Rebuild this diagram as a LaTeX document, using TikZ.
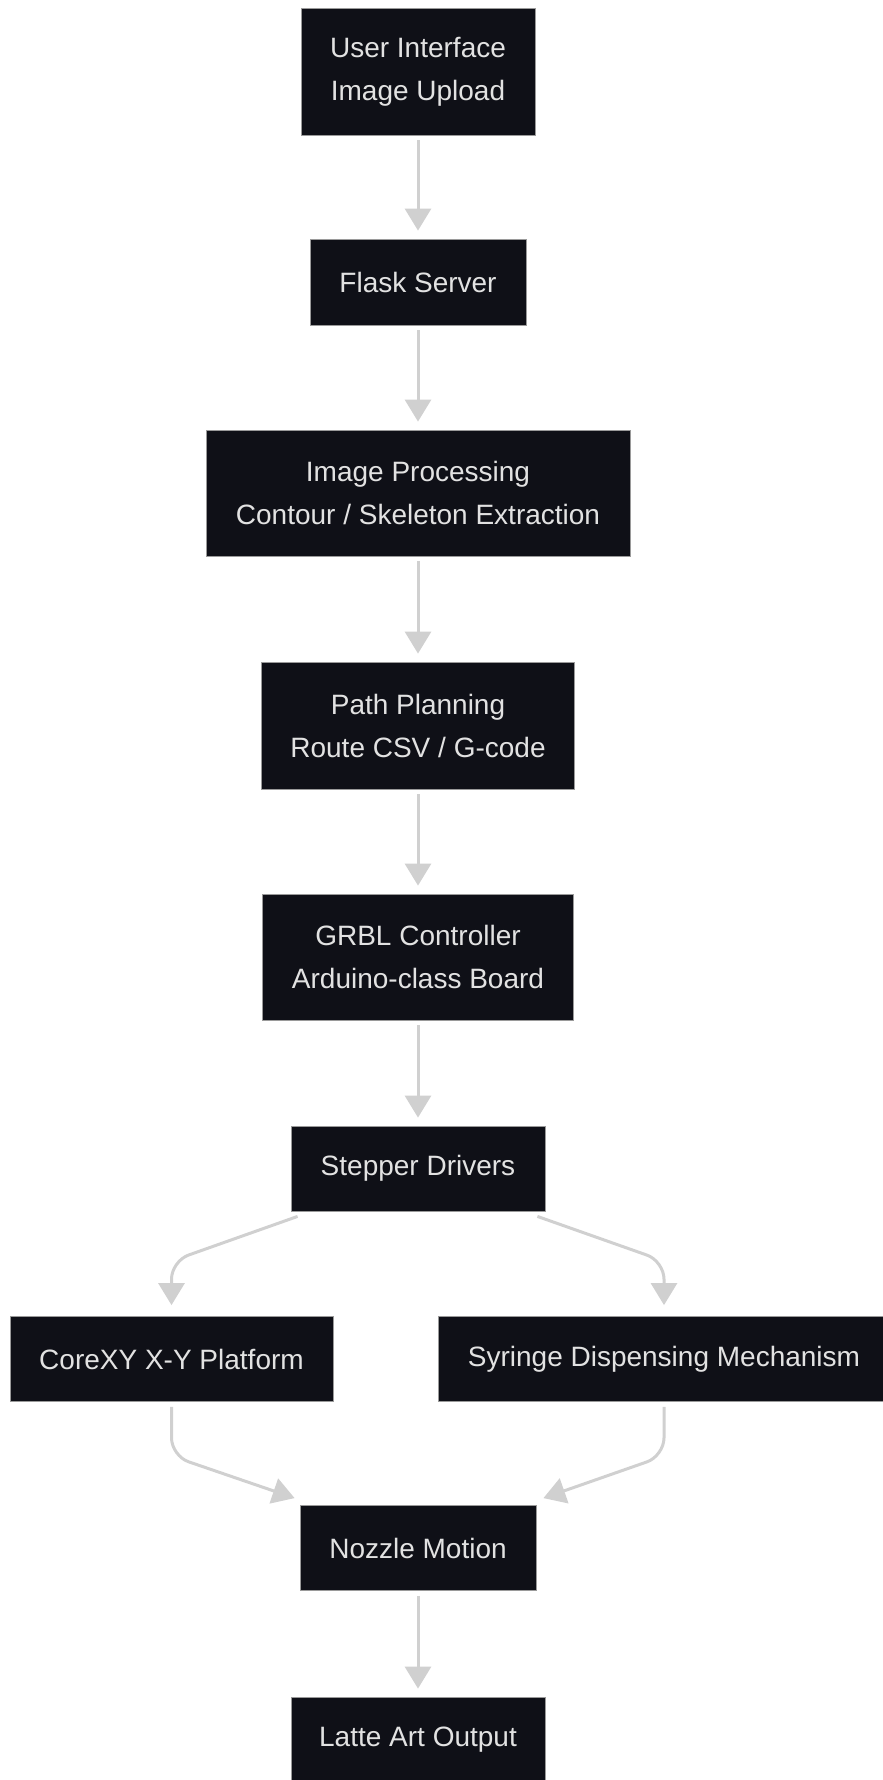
\documentclass[tikz,border=0pt]{standalone}
\usepackage{fontspec}
\setmainfont{Liberation Sans}
\usepackage{xcolor}
\usetikzlibrary{positioning, arrows.meta}
\definecolor{boxfill}{HTML}{0F1017}
\definecolor{boxline}{HTML}{9A9A9A}
\definecolor{boxtext}{HTML}{E2E2E2}
\definecolor{flowgray}{HTML}{D0D0D0}
\tikzset{
    procbox/.style={rectangle, draw=boxline, line width=0.8pt, fill=boxfill, text=boxtext,
        inner sep=0pt, align=center, font=\fontsize{28}{43}\selectfont},
    flow/.style={-{Triangle[width=26pt, length=22pt]}, line width=3pt, draw=flowgray}
}

\begin{document}
\begin{tikzpicture}[x=1pt, y=-1pt]
\useasboundingbox (0,0) rectangle (883,1780);

% Nodes
\node[procbox, minimum width=234pt, minimum height=127pt] (ui) at (418,71.5) {User Interface\\Image Upload};
\node[procbox, minimum width=216pt, minimum height=86pt] (flask) at (418,282) {Flask Server};
\node[procbox, minimum width=424pt, minimum height=126pt] (imgproc) at (418,493) {Image Processing\\Contour / Skeleton Extraction};
\node[procbox, minimum width=313pt, minimum height=127pt] (path) at (418,725.5) {Path Planning\\Route CSV / G-code};
\node[procbox, minimum width=311pt, minimum height=126pt] (grbl) at (418,957) {GRBL Controller\\Arduino-class Board};
\node[procbox, minimum width=254pt, minimum height=85pt] (stepper) at (418,1168.5) {Stepper Drivers};
\node[procbox, minimum width=323pt, minimum height=85pt] (corexy) at (171.5,1359) {CoreXY X-Y Platform};
\node[procbox, minimum width=452pt, minimum height=85pt] (syringe) at (664,1359) {Syringe Dispensing Mechanism};
\node[procbox, minimum width=236pt, minimum height=85pt] (nozzle) at (418,1548) {Nozzle Motion};
\node[procbox, minimum width=254pt, minimum height=85pt] (latte) at (418,1739.5) {Latte Art Output};

% Arcs (straight chain)
\draw[flow, shorten <=5pt, shorten >=8pt] (ui) -- (flask);
\draw[flow, shorten <=5pt, shorten >=8pt] (flask) -- (imgproc);
\draw[flow, shorten <=5pt, shorten >=8pt] (imgproc) -- (path);
\draw[flow, shorten <=5pt, shorten >=8pt] (path) -- (grbl);
\draw[flow, shorten <=5pt, shorten >=8pt] (grbl) -- (stepper);
\draw[flow, shorten <=5pt, shorten >=8pt] (nozzle) -- (latte);

% Arcs (fork and join, rounded bends)
\draw[flow, rounded corners=18pt] ([xshift=7pt, yshift=-5pt]stepper.south west)
    -- ([yshift=55pt]corexy.north) -- ([yshift=11pt]corexy.north);
\draw[flow, rounded corners=18pt] ([xshift=-8pt, yshift=-5pt]stepper.south east)
    -- ([yshift=55pt]syringe.north) -- ([yshift=11pt]syringe.north);
\draw[flow, rounded corners=18pt] ([yshift=-5pt]corexy.south)
    -- ([yshift=-54pt]corexy.south) -- ([xshift=-5pt, yshift=7pt]nozzle.north west);
\draw[flow, rounded corners=18pt] ([yshift=-5pt]syringe.south)
    -- ([yshift=-54pt]syringe.south) -- ([xshift=7pt, yshift=7pt]nozzle.north east);

\end{tikzpicture}
\end{document}
